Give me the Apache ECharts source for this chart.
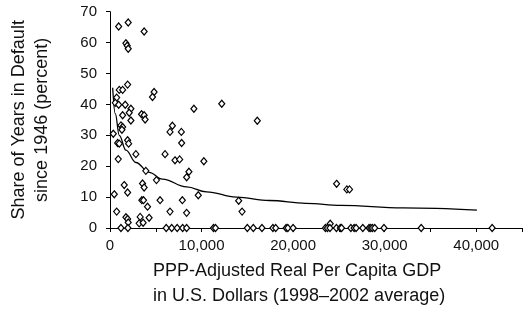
<!DOCTYPE html>
<html>
<head>
<meta charset="utf-8">
<script src="https://cdn.jsdelivr.net/npm/echarts@6/dist/echarts.min.js"></script>
<style>
    html, body { margin: 0; padding: 0; background: #fff; }
    #chart { width: 527px; height: 313px; }
</style>
</head>
<body>
<div id="chart"></div>
<script>
// countries: [gdp per capita, share of years in default]
const countryPoints = [
    [946, 65.2], [1989, 66.5], [3728, 63.6], [1739, 59.8], [1880, 59.0], [1989, 58.0],
    [1924, 46.4], [1011, 44.7], [1380, 44.7], [4815, 44.0], [4641, 42.4], [728, 42.2],
    [576, 40.5], [946, 39.9], [1663, 39.9], [2283, 38.6], [2098, 37.3], [1380, 36.5],
    [3446, 36.8], [3728, 36.5], [3837, 35.1], [2283, 34.8], [9163, 38.6], [12207, 40.2],
    [16087, 34.7], [359, 30.5], [1196, 33.2], [1380, 32.7], [1304, 31.8], [837, 27.5],
    [1011, 27.3], [1924, 28.4], [2033, 27.3], [902, 22.3], [2826, 23.9], [6815, 33.1],
    [6554, 31.1], [7793, 31.1], [7826, 27.5], [6011, 23.9], [7098, 21.9], [7609, 22.2],
    [10250, 21.6], [3913, 18.5], [8620, 18.2], [8370, 16.4], [5076, 15.5], [1554, 13.9],
    [3554, 14.4], [3728, 13.1], [1924, 11.5], [467, 10.9], [9641, 10.6], [3478, 9.0],
    [3663, 9.0], [5467, 9.0], [7902, 9.0], [14054, 8.8], [4098, 6.9], [728, 5.3],
    [6554, 5.3], [8370, 4.9], [14424, 5.3], [1739, 3.5], [1924, 2.9], [1989, 1.8],
    [3293, 3.6], [4272, 3.3], [3185, 1.5], [3620, 1.7], [24750, 14.3], [25870, 12.5],
    [26163, 12.5], [24054, 1.4]
]
// countries that never defaulted (share = 0)
const neverDefaultedGdp = [
    1196, 1957, 6141, 6739, 7337, 7935, 8370, 11305, 11522, 15000, 15652, 16598,
    17794, 18098, 19239, 19424, 20000, 23533, 23751, 24022, 24729, 25164, 25294,
    26305, 26664, 26881, 27610, 28295, 28479, 28664, 28914, 29925, 33990, 41740
]
// fitted trend line
const trendPoints = [
    [293, 45.4], [576, 37.0], [1011, 30.0], [1739, 25.2], [2826, 21.2], [4272, 18.0],
    [5728, 15.8], [8370, 13.3], [10543, 11.7], [13804, 10.0], [17424, 8.9], [21413, 8.0],
    [25217, 7.3], [32000, 6.5], [40076, 5.8]
]
const yTicks = [0, 10, 20, 30, 40, 50, 60, 70]

const scatterData = countryPoints.concat(neverDefaultedGdp.map(g => [g, 0]))

let myChart = echarts.init(document.getElementById('chart'))
const font = '"Liberation Sans", Arial, Helvetica, sans-serif'
const options = {
    animation: false,
    title: {
        text: 'PPP-Adjusted Real Per Capita GDP\nin U.S. Dollars (1998\u20132002 average)',
        left: 153,
        top: 259,
        padding: 0,
        textStyle: {
            fontFamily: font,
            fontSize: 18,
            fontWeight: 'normal',
            lineHeight: 25,
            color: '#111'
        }
    },
    grid: {
        left: 108,
        right: 5,
        top: 11.7,
        bottom: 85
    },
    xAxis: {
        type: 'value',
        min: 0,
        max: 45000,
        interval: 5000,
        axisLine: { lineStyle: { color: '#000', width: 1 } },
        axisTick: { show: true, length: 4, lineStyle: { color: '#000' } },
        splitLine: { show: false },
        axisLabel: {
            margin: 10,
            fontFamily: font,
            fontSize: 15,
            color: '#111',
            formatter: v => (v % 10000 === 0 ? v.toLocaleString('en-US') : '')
        }
    },
    yAxis: {
        type: 'value',
        min: yTicks[0],
        max: yTicks[yTicks.length - 1],
        interval: 10,
        name: 'Share of Years in Default\nsince 1946 (percent)',
        nameLocation: 'middle',
        nameRotate: 90,
        nameGap: 56,
        nameTextStyle: {
            fontFamily: font,
            fontSize: 18,
            lineHeight: 23,
            color: '#111'
        },
        axisLine: { show: true, lineStyle: { color: '#000', width: 1 } },
        axisTick: { show: true, length: 4, lineStyle: { color: '#000' } },
        splitLine: { show: false },
        axisLabel: {
            margin: 13,
            fontFamily: font,
            fontSize: 15,
            color: '#111'
        }
    },
    series: [
        {
            name: 'trend',
            type: 'line',
            data: trendPoints,
            smooth: 0.4,
            smoothMonotone: 'x',
            showSymbol: false,
            symbol: 'none',
            lineStyle: { color: '#000', width: 1.3 },
            z: 2
        },
        {
            name: 'countries',
            type: 'scatter',
            data: scatterData,
            symbol: 'diamond',
            symbolSize: [6, 7],
            itemStyle: {
                color: '#fff',
                borderColor: '#000',
                borderWidth: 1.2,
                opacity: 1
            },
            z: 3
        }
    ]
}
myChart.setOption(options)
</script>
</body>
</html>
